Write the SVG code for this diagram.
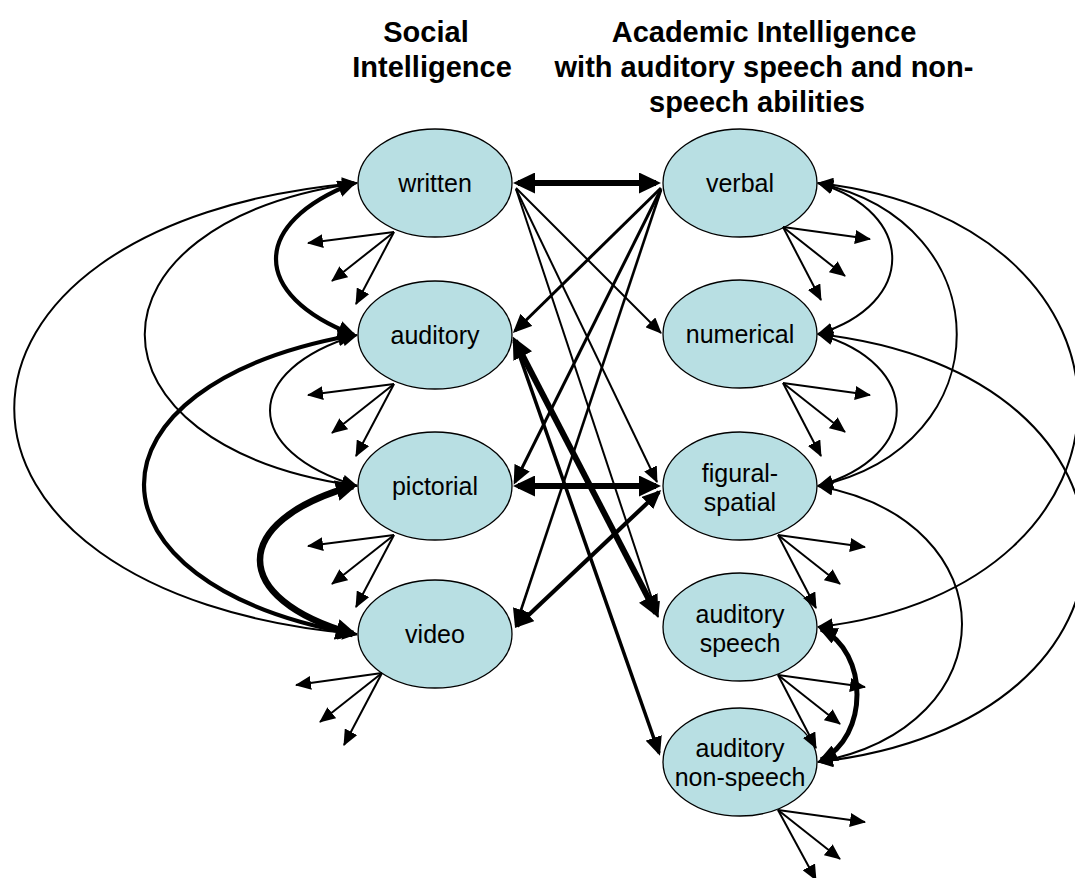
<svg xmlns="http://www.w3.org/2000/svg" width="1075" height="878" viewBox="0 0 1075 878">
<defs>
<style>
.node ellipse{fill:#B8DFE3;stroke:#000;stroke-width:1.3}
.t{font-family:"Liberation Sans",Arial,sans-serif;font-size:25px;text-anchor:middle;fill:#000}
.h{font-family:"Liberation Sans",Arial,sans-serif;font-size:29px;font-weight:bold;text-anchor:middle;fill:#000}
#connectors path{fill:none;stroke:#000;stroke-linecap:butt}
.w1{stroke-width:2;marker-end:url(#a1)}
.w1b{stroke-width:2;marker-start:url(#a1);marker-end:url(#a1)}
.w3{stroke-width:3;marker-end:url(#a2)}
.w4b{stroke-width:4.2;marker-start:url(#a2);marker-end:url(#a2)}
.w6b{stroke-width:6;marker-start:url(#a3);marker-end:url(#a3)}
</style>
<marker id="a1" viewBox="0 0 16 14" markerWidth="16" markerHeight="14" refX="15" refY="7" orient="auto-start-reverse" markerUnits="userSpaceOnUse"><path d="M0,0 L16,7 L0,14 z" fill="#000"/></marker>
<marker id="a2" viewBox="0 0 19 17" markerWidth="19" markerHeight="17" refX="16" refY="8.5" orient="auto-start-reverse" markerUnits="userSpaceOnUse"><path d="M0,0 L19,8.5 L0,17 z" fill="#000"/></marker>
<marker id="a3" viewBox="0 0 22 21" markerWidth="22" markerHeight="21" refX="17" refY="10.5" orient="auto-start-reverse" markerUnits="userSpaceOnUse"><path d="M0,0 L22,10.5 L0,21 z" fill="#000"/></marker>
</defs>
<rect width="1075" height="878" fill="#fff"/>

<g id="titles">
<text class="h" x="426" y="42">Social</text>
<text class="h" x="432" y="77">Intelligence</text>
<text class="h" x="764" y="42">Academic Intelligence</text>
<text class="h" x="764" y="77">with auditory speech and non-</text>
<text class="h" x="757" y="112">speech abilities</text>
</g>

<g id="node-written" class="node"><ellipse cx="435" cy="183" rx="77" ry="54"/><text class="t" x="435" y="192">written</text></g>
<g id="node-auditory" class="node"><ellipse cx="435" cy="335" rx="77" ry="54"/><text class="t" x="435" y="344">auditory</text></g>
<g id="node-pictorial" class="node"><ellipse cx="435" cy="486" rx="77" ry="54"/><text class="t" x="435" y="495">pictorial</text></g>
<g id="node-video" class="node"><ellipse cx="435" cy="634" rx="77" ry="54"/><text class="t" x="435" y="643">video</text></g>
<g id="node-verbal" class="node"><ellipse cx="740" cy="183" rx="77" ry="54"/><text class="t" x="740" y="192">verbal</text></g>
<g id="node-numerical" class="node"><ellipse cx="740" cy="334" rx="77" ry="54"/><text class="t" x="740" y="343">numerical</text></g>
<g id="node-figural-spatial" class="node"><ellipse cx="740" cy="486" rx="77" ry="54"/><text class="t" x="740" y="482">figural-</text><text class="t" x="740" y="511">spatial</text></g>
<g id="node-auditory-speech" class="node"><ellipse cx="740" cy="627" rx="77" ry="54"/><text class="t" x="740" y="623">auditory</text><text class="t" x="740" y="652">speech</text></g>
<g id="node-auditory-non-speech" class="node"><ellipse cx="740" cy="762" rx="77" ry="54"/><text class="t" x="740" y="757">auditory</text><text class="t" x="740" y="786">non-speech</text></g>

<g id="connectors">
<!-- left arcs -->
<path class="w4b" d="M354,183 C250,223 250,295 354,335"/>
<path class="w1b" d="M357,183 C74,223 74,446 357,486"/>
<path class="w1b" d="M357,183 C-100,223 -100,594 357,634"/>
<path class="w1b" d="M357,335 C241,370 241,451 357,486"/>
<path class="w4b" d="M354,335 C74,385 74,584 354,634"/>
<path class="w6b" d="M353,486 C229,521 229,599 353,634" style="stroke-width:6.5"/>
<!-- right arcs -->
<path class="w1b" d="M818,183 C917,213 917,304 818,334"/>
<path class="w1b" d="M818,183 C1003,223 1003,446 818,486"/>
<path class="w1b" d="M818,183 C1165,223 1165,587 818,627"/>
<path class="w1b" d="M818,334 C923,364 923,456 818,486"/>
<path class="w1b" d="M818,334 C1174,374 1174,722 818,762"/>
<path class="w1b" d="M818,486 C1010,521 1010,727 818,762"/>
<path class="w4b" d="M821,629 C869,652 869,737 821,760" style="stroke-width:5"/>
<!-- centre lines -->
<path class="w6b" d="M518,183 L656,183"/>
<path class="w6b" d="M518,486 L656,486"/>
<path class="w1" d="M516,188 L661,333"/>
<path class="w1" d="M516,189 L657,482"/>
<path class="w1" d="M516,189 L658,617"/>
<path class="w3" d="M661,188 L515,331"/>
<path class="w3" d="M661,189 L515,482"/>
<path class="w3" d="M661,190 L516,625" style="stroke-width:2.6"/>
<path class="w6b" d="M515,341 L656,613"/>
<path class="w3" d="M514,340 L659,753" style="stroke-width:3.5"/>
<path class="w4b" d="M659,492 L517,626"/>
<!-- fans, left -->
<path class="w1" d="M394,232 L308,243"/><path class="w1" d="M394,232 L332,281"/><path class="w1" d="M394,232 L356,304"/>
<path class="w1" d="M394,384 L308,395"/><path class="w1" d="M394,384 L332,433"/><path class="w1" d="M394,384 L356,456"/>
<path class="w1" d="M394,535 L308,546"/><path class="w1" d="M394,535 L332,584"/><path class="w1" d="M394,535 L356,607"/>
<path class="w1" d="M382,673 L296,685"/><path class="w1" d="M382,673 L320,722"/><path class="w1" d="M382,673 L344,745"/>
<!-- fans, right -->
<path class="w1" d="M783,227 L870,239"/><path class="w1" d="M783,227 L845,276"/><path class="w1" d="M783,227 L821,300"/>
<path class="w1" d="M783,383 L870,395"/><path class="w1" d="M783,383 L845,432"/><path class="w1" d="M783,383 L821,456"/>
<path class="w1" d="M778,535 L865,547"/><path class="w1" d="M778,535 L840,584"/><path class="w1" d="M778,535 L816,608"/>
<path class="w1" d="M778,675 L865,687"/><path class="w1" d="M778,675 L840,724"/><path class="w1" d="M778,675 L816,748"/>
<path class="w1" d="M778,810 L865,822"/><path class="w1" d="M778,810 L840,859"/><path class="w1" d="M778,810 L816,880"/>
</g>
</svg>
